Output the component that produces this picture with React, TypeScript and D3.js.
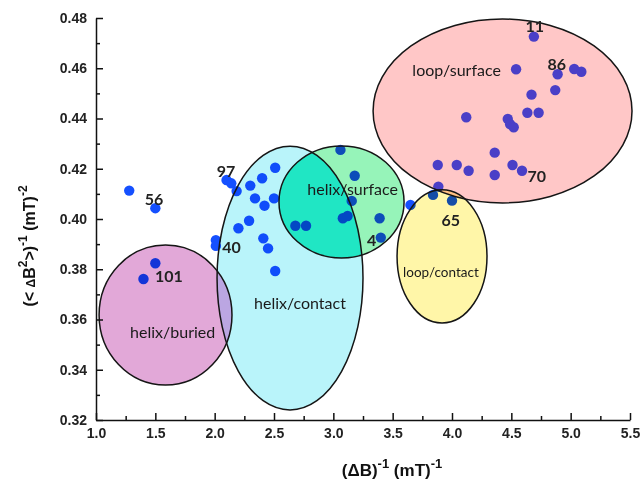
import React, { useEffect, useRef } from 'react';
import * as d3 from 'd3';

// scatter points (x = (ΔB)^-1, y = (<ΔB²>)^-1)
const pointX = [
  4.69, 4.54, 4.89, 5.03, 5.09, 4.87, 4.67, 4.635, 4.73, 4.12, 4.47, 4.49, 4.52, 4.36,
  3.88, 4.04, 4.14, 4.36, 4.51, 4.59, 3.885, 3.84, 4.0, 3.65,
  2.1, 2.14, 2.185, 2.3, 2.4, 2.51, 2.34, 2.42, 2.5, 2.29, 2.2, 2.41, 2.45, 2.51, 2.01, 2.01,
  3.06, 3.18, 3.155, 3.08, 3.12, 2.68, 2.77, 3.39, 3.4,
  1.28, 1.5, 1.5, 1.4,
];
const pointY = [
  0.4726, 0.4596, 0.4576, 0.4597, 0.4586, 0.4513, 0.4495, 0.4423, 0.4423, 0.4405, 0.4398, 0.4377, 0.4365, 0.4264,
  0.4215, 0.4215, 0.4192, 0.4175, 0.4215, 0.4192, 0.4129, 0.4096, 0.4073, 0.4056,
  0.4155, 0.4142, 0.4111, 0.4133, 0.4162, 0.4204, 0.4082, 0.4053, 0.4082, 0.3993, 0.3963, 0.3923, 0.3883, 0.3793, 0.3916, 0.3893,
  0.4275, 0.4172, 0.4072, 0.4003, 0.4012, 0.3973, 0.3973, 0.4003, 0.3926,
  0.4113, 0.4043, 0.3824, 0.3761,
];

// residue number labels
const residueNames = ['11', '86', '70', '65', '97', '56', '40', '101', '4'];
const residueX = [4.697, 4.882, 4.714, 3.989, 2.095, 1.489, 2.143, 1.615, 3.323];
const residueY = [0.4772, 0.462, 0.4172, 0.4, 0.4194, 0.4082, 0.389, 0.3777, 0.3919];

// region ellipses (centre and radii in data units)
const regionNames = ['helix/contact', 'helix/buried', 'helix/surface', 'loop/contact', 'loop/surface'];
const regionCx = [2.635, 1.586, 3.069, 3.916, 4.426];
const regionCy = [0.3765, 0.3618, 0.4068, 0.3851, 0.443];
const regionRx = [0.615, 0.56, 0.527, 0.379, 1.091];
const regionRy = [0.0525, 0.0279, 0.0223, 0.0265, 0.0366];
const regionColors = ['#b9f4fa', '#e2a8d8', '#96f4b9', '#fff6a8', '#ff0707'];
const regionAlpha = [1, 1, 1, 1, 0.226];
const labelX = [2.719, 1.646, 3.163, 3.907, 4.039];
const labelY = [0.3667, 0.3554, 0.4122, 0.3788, 0.4596];

const xTicks = [1.0, 1.5, 2.0, 2.5, 3.0, 3.5, 4.0, 4.5, 5.0, 5.5];
const yTicks = [0.32, 0.34, 0.36, 0.38, 0.4, 0.42, 0.44, 0.46, 0.48];

const App = () => {
  const chartRef = useRef<SVGSVGElement>(null);

  useEffect(() => {
    const svg = d3.select(chartRef.current);
    svg.selectAll('*').remove();

    const x = d3.scaleLinear().domain([1.0, 5.5]).range([96, 630]);
    const y = d3.scaleLinear().domain([0.32, 0.48]).range([420, 18]);

    const ell = (i: number) => ({
      cx: x(regionCx[i]),
      cy: y(regionCy[i]),
      rx: x(regionCx[i] + regionRx[i]) - x(regionCx[i]),
      ry: y(regionCy[i]) - y(regionCy[i] + regionRy[i]),
    });

    const defs = svg.append('defs');
    regionNames.forEach((_, i) => {
      const e = ell(i);
      defs.append('clipPath').attr('id', `clip${i}`)
        .append('ellipse').attr('cx', e.cx).attr('cy', e.cy).attr('rx', e.rx).attr('ry', e.ry);
    });

    // points first, the fills lie over them
    svg.append('g').selectAll('circle').data(pointX).enter().append('circle')
      .attr('cx', (d) => x(d))
      .attr('cy', (_, i) => y(pointY[i]))
      .attr('r', 5.2)
      .attr('fill', '#1550ff');

    const fills = svg.append('g').style('mix-blend-mode', 'multiply');
    regionNames.forEach((_, i) => {
      if (regionAlpha[i] < 1) return;
      const e = ell(i);
      fills.append('ellipse').attr('cx', e.cx).attr('cy', e.cy).attr('rx', e.rx).attr('ry', e.ry)
        .attr('fill', regionColors[i]);
    });
    // overlaps: [ellipse, clipped by, colour]
    const overlaps: [number, number, string][] = [[2, 0, '#20e6c4'], [1, 0, '#bba6e2']];
    overlaps.forEach(([a, b, c]) => {
      const e = ell(a);
      fills.append('ellipse').attr('cx', e.cx).attr('cy', e.cy).attr('rx', e.rx).attr('ry', e.ry)
        .attr('clip-path', `url(#clip${b})`).attr('fill', c);
    });
    // translucent fills drawn normally
    regionNames.forEach((_, i) => {
      if (regionAlpha[i] >= 1) return;
      const e = ell(i);
      svg.append('ellipse').attr('cx', e.cx).attr('cy', e.cy).attr('rx', e.rx).attr('ry', e.ry)
        .attr('fill', regionColors[i]).attr('fill-opacity', regionAlpha[i]);
    });

    const outlines = svg.append('g');
    regionNames.forEach((_, i) => {
      const e = ell(i);
      outlines.append('ellipse').attr('cx', e.cx).attr('cy', e.cy).attr('rx', e.rx).attr('ry', e.ry)
        .attr('fill', 'none').attr('stroke', '#151515').attr('stroke-width', 1.5);
    });

    // axes, ticks pointing inward
    const xMinor = d3.range(1.25, 5.5, 0.5);
    const yMinor = d3.range(0.33, 0.48, 0.02);

    const gx = svg.append('g').attr('transform', `translate(0, ${y(0.32)})`);
    gx.call(d3.axisBottom(x).tickValues(xTicks).tickSize(-7).tickSizeOuter(0).tickPadding(8).tickFormat(d3.format('.1f')));
    gx.append('g').call(d3.axisBottom(x).tickValues(xMinor).tickSize(-4).tickSizeOuter(0).tickFormat(() => ''))
      .select('.domain').remove();

    const gy = svg.append('g').attr('transform', `translate(${x(1.0)}, 0)`);
    gy.call(d3.axisLeft(y).tickValues(yTicks).tickSize(-7).tickSizeOuter(0).tickPadding(9).tickFormat(d3.format('.2f')));
    gy.append('g').call(d3.axisLeft(y).tickValues(yMinor).tickSize(-4).tickSizeOuter(0).tickFormat(() => ''))
      .select('.domain').remove();

    svg.selectAll('.domain, .tick line').attr('stroke', '#111').attr('stroke-width', 1.5);
    svg.selectAll('.tick text')
      .attr('fill', '#222')
      .style('font-family', 'Liberation Sans, Arial, sans-serif')
      .style('font-weight', 'bold')
      .style('font-size', '14px');

    // axis titles
    const xt = svg.append('text').attr('x', 392).attr('y', 476).attr('text-anchor', 'middle')
      .style('font-family', 'Liberation Sans, Arial, sans-serif').style('font-weight', 'bold')
      .style('font-size', '17px').attr('fill', '#111');
    xt.append('tspan').text('(\u0394B)');
    xt.append('tspan').attr('dy', -8).style('font-size', '13px').text('-1');
    xt.append('tspan').attr('dy', 8).text(' (mT)');
    xt.append('tspan').attr('dy', -8).style('font-size', '13px').text('-1');

    const yt = svg.append('text').attr('transform', 'translate(35, 246) rotate(-90)').attr('text-anchor', 'middle')
      .style('font-family', 'Liberation Sans, Arial, sans-serif').style('font-weight', 'bold')
      .style('font-size', '16px').attr('fill', '#111');
    yt.append('tspan').text('(< ');
    yt.append('tspan').style('font-size', '12px').text('\u0394');
    yt.append('tspan').text('B');
    yt.append('tspan').attr('dy', -8).style('font-size', '12px').text('2');
    yt.append('tspan').attr('dy', 8).text('>)');
    yt.append('tspan').attr('dy', -8).style('font-size', '12px').text('-1');
    yt.append('tspan').attr('dy', 8).text(' (mT)');
    yt.append('tspan').attr('dy', -8).style('font-size', '12px').text('-2');

    // region and residue labels
    svg.append('g').selectAll('text').data(regionNames).enter().append('text')
      .attr('x', (_, i) => x(labelX[i]))
      .attr('y', (_, i) => y(labelY[i]))
      .attr('text-anchor', 'middle')
      .attr('dominant-baseline', 'central')
      .style('font-family', 'Lato, Open Sans, sans-serif')
      .style('font-size', (d) => (d === 'loop/contact' ? '13.5px' : '16px'))
      .attr('fill', '#1a1a1a')
      .text((d) => d);

    svg.append('g').selectAll('text').data(residueNames).enter().append('text')
      .attr('x', (_, i) => x(residueX[i]))
      .attr('y', (_, i) => y(residueY[i]))
      .attr('text-anchor', 'middle')
      .attr('dominant-baseline', 'central')
      .style('font-family', 'Lato, Open Sans, sans-serif')
      .style('font-weight', 'bold')
      .style('font-size', '16px')
      .attr('fill', '#222')
      .text((d) => d);
  }, []);

  return (
    <svg ref={chartRef} width={644} height={489}
      style={{ position: 'absolute', left: 0, top: 0, background: '#fff' }}></svg>
  );
};

export default App;
